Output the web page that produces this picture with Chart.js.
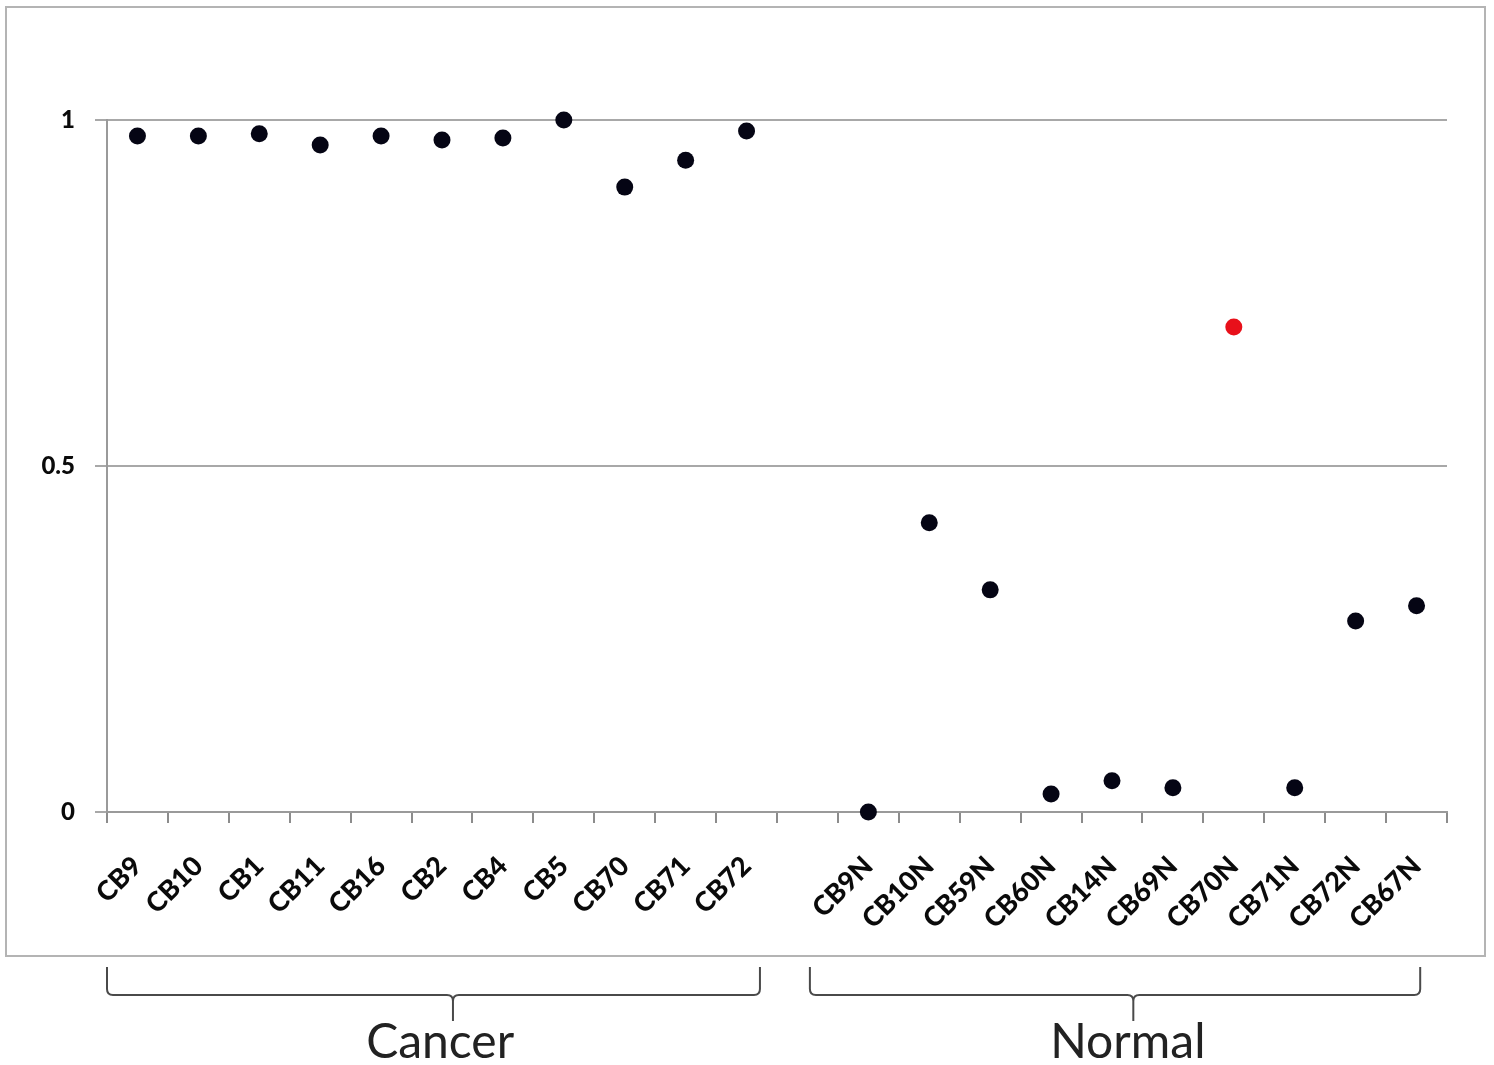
<!DOCTYPE html>
<html>
<head>
<meta charset="utf-8">
<script src="https://cdn.jsdelivr.net/npm/chart.js@4.4.1/dist/chart.umd.min.js"></script>
<style>
  html, body { margin: 0; padding: 0; background: #fff; overflow: hidden; }
  #wrap { position: relative; width: 1494px; height: 1065px; }
</style>
</head>
<body>
<div id="wrap"><canvas id="dotChart" width="1494" height="1065"></canvas></div>
<script>
// ---- data ----
const categories = ['CB9','CB10','CB1','CB11','CB16','CB2','CB4','CB5','CB70','CB71','CB72','',
                    'CB9N','CB10N','CB59N','CB60N','CB14N','CB69N','CB70N','CB71N','CB72N','CB67N'];
const values = [0.977, 0.977, 0.980, 0.964, 0.977, 0.971, 0.974, 1.0, 0.903, 0.942, 0.984, null,
                0.0, 0.418, 0.321, 0.026, 0.045, 0.035, 0.701, 0.035, 0.276, 0.298];
const highlighted = ['CB70N'];
const yTicks = [0, 0.5, 1];
// group brackets under the axis (category index ranges, tip, label centre)
const groupNames = ['Cancer', 'Normal'];
const groupFrom = [-0.5, 11.04];
const groupTo = [10.22, 21.06];
const groupTip = [5.18, 16.35];
const groupLabelAt = [4.97, 16.26];

const pointColors = categories.map(c => highlighted.includes(c) ? '#e8101a' : '#050514');

// frame + brackets + group names
const decorPlugin = {
  id: 'decor',
  afterDraw(chart) {
    const ctx = chart.ctx;
    const x = chart.scales.x;
    ctx.save();
    ctx.strokeStyle = '#b4b4b4';
    ctx.lineWidth = 2;
    ctx.strokeRect(6, 7, 1479, 949);

    ctx.strokeStyle = '#4a4a4a';
    ctx.lineWidth = 2;
    const top = 967, mid = 995, tipY = 1021, r = 6;
    groupNames.forEach((name, i) => {
      const l = x.getPixelForValue(groupFrom[i]);
      const rr = x.getPixelForValue(groupTo[i]);
      const t = x.getPixelForValue(groupTip[i]);
      ctx.beginPath();
      ctx.moveTo(l, top);
      ctx.lineTo(l, mid - r);
      ctx.quadraticCurveTo(l, mid, l + r, mid);
      ctx.lineTo(t - r, mid);
      ctx.quadraticCurveTo(t, mid, t, mid + r);
      ctx.lineTo(t, tipY);
      ctx.moveTo(t, mid + r);
      ctx.quadraticCurveTo(t, mid, t + r, mid);
      ctx.lineTo(rr - r, mid);
      ctx.quadraticCurveTo(rr, mid, rr, mid - r);
      ctx.lineTo(rr, top);
      ctx.stroke();

      ctx.fillStyle = '#222';
      ctx.font = '48px Lato, "Open Sans", sans-serif';
      ctx.textAlign = 'center';
      ctx.textBaseline = 'alphabetic';
      ctx.fillText(name, x.getPixelForValue(groupLabelAt[i]), 1058);
    });
    ctx.restore();
  }
};

new Chart(document.getElementById('dotChart'), {
  type: 'line',
  data: {
    labels: categories,
    datasets: [{
      data: values,
      showLine: false,
      pointRadius: 8.5,
      pointHoverRadius: 8.5,
      pointBackgroundColor: pointColors,
      pointBorderColor: pointColors,
      pointBorderWidth: 0,
      clip: false
    }]
  },
  options: {
    responsive: false,
    animation: false,
    devicePixelRatio: 1,
    layout: { padding: { top: 120, right: 47, left: 0, bottom: 0 } },
    plugins: { legend: { display: false }, tooltip: { enabled: false } },
    scales: {
      x: {
        offset: true,
        afterFit: s => { s.height = 253; },
        grid: { offset: true, drawOnChartArea: false, drawTicks: true, tickLength: 11, color: '#8c8c8c', lineWidth: 2 },
        border: { display: true, color: '#9a9a9a', width: 2 },
        ticks: {
          autoSkip: false, maxRotation: 45, minRotation: 45, padding: 27,
          color: '#0a0a0a', font: { family: 'Lato, "Open Sans", sans-serif', size: 27, weight: 900 }
        }
      },
      y: {
        min: 0, max: 1,
        afterFit: s => { s.width = 107; },
        afterBuildTicks: s => { s.ticks = yTicks.map(v => ({ value: v })); },
        grid: { color: '#a8a8a8', lineWidth: 2, tickLength: 12 },
        border: { display: true, color: '#9a9a9a', width: 2 },
        ticks: {
          padding: 20, color: '#0a0a0a',
          font: { family: 'Lato, "Open Sans", sans-serif', size: 24, weight: 900 },
          callback: v => String(v)
        }
      }
    }
  },
  plugins: [decorPlugin]
});
</script>
</body>
</html>
